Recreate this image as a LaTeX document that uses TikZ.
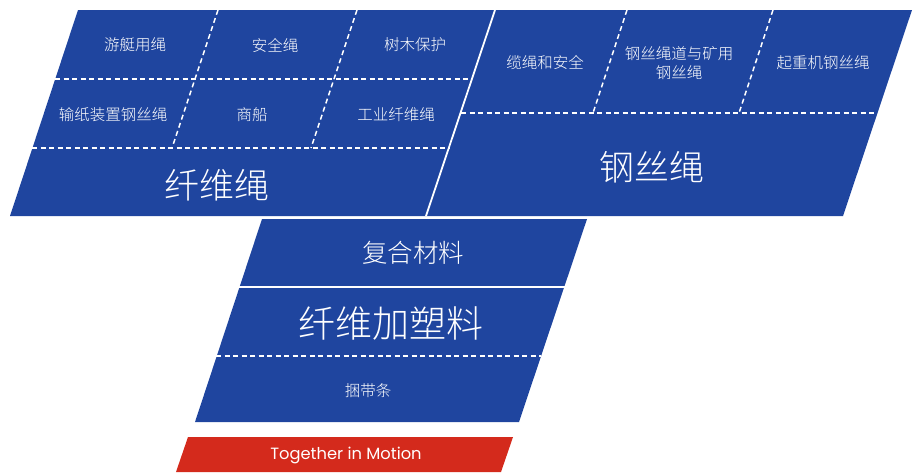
\documentclass[tikz,border=0pt]{standalone}
\usepackage{fontspec}
\setmainfont{Poppins}
\newfontfamily\cjk{Noto Sans CJK SC Light}
\definecolor{panelblue}{HTML}{1F459F}
\definecolor{barred}{HTML}{D42A1C}
\begin{document}
\begin{tikzpicture}[x=1pt,y=-1pt,
  sep/.style={draw=white,line width=1.8pt},
  dsep/.style={draw=white,line width=1.5pt,dash pattern=on 5pt off 3.5pt},
  small/.style={text=white,font=\cjk\fontsize{15.5}{19}\selectfont,align=center,inner sep=0pt},
  big/.style={text=white,font=\cjk\fontsize{35}{40}\selectfont,inner sep=0pt},
  mid/.style={text=white,font=\cjk\fontsize{25.5}{30}\selectfont,inner sep=0pt},
  tag/.style={text=white,font=\fontsize{16.3}{19}\selectfont,inner sep=0pt}]
\useasboundingbox (0,0) rectangle (920,472);
% top panels
\fill[panelblue] (78,10) -- (912,10) -- (843,216) -- (10,216) -- cycle;
\coordinate (s1) at (495,10); \coordinate (s2) at (426,216);
\draw[sep] (s1) -- (s2);
% left panel dashed grid
\coordinate (l1a) at (55,79);  \coordinate (l1b) at (471,79);
\coordinate (l2a) at (32,148); \coordinate (l2b) at (449,148);
\coordinate (v1a) at (218,10); \coordinate (v1b) at (172,148);
\coordinate (v2a) at (357,10); \coordinate (v2b) at (311,148);
\draw[dsep] (l1a) -- (l1b);
\draw[dsep] (l2a) -- (l2b);
\draw[dsep] (v1a) -- (v1b);
\draw[dsep] (v2a) -- (v2b);
% right panel dashed grid
\coordinate (r1a) at (461,113); \coordinate (r1b) at (877,113);
\coordinate (w1a) at (627,10); \coordinate (w1b) at (593,113);
\coordinate (w2a) at (773,10); \coordinate (w2b) at (739,113);
\draw[dsep] (r1a) -- (r1b);
\draw[dsep] (w1a) -- (w1b);
\draw[dsep] (w2a) -- (w2b);
% middle panel
\fill[panelblue] (262,219) -- (587,219) -- (519,422) -- (195,422) -- cycle;
\coordinate (m1a) at (238,287); \coordinate (m1b) at (566,287);
\draw[sep] (m1a) -- (m1b);
\coordinate (m2a) at (216,356); \coordinate (m2b) at (541,356);
\draw[dsep] (m2a) -- (m2b);
% red bar
\fill[barred] (188,437) -- (513,437) -- (501,472) -- (176,472) -- cycle;
% texts
\node[small] (t1) at (135,45) {游艇用绳};
\node[small] (t2) at (275,45) {安全绳};
\node[small] (t3) at (415,45) {树木保护};
\node[small] (t4) at (113,115) {输纸装置钢丝绳};
\node[small] (t5) at (252,115) {商船};
\node[small] (t6) at (396,115) {工业纤维绳};
\node[big] (t7) at (217,185) {纤维绳};
\node[small] (u1) at (545,63) {缆绳和安全};
\node[small] (u2) at (679,63) {钢丝绳道与矿用\\钢丝绳};
\node[small] (u3) at (823,63) {起重机钢丝绳};
\node[big] (u4) at (652,167) {钢丝绳};
\node[mid] (c1) at (413,253) {复合材料};
\node[big,font=\cjk\fontsize{37}{42}\selectfont] (c2) at (391,323) {纤维加塑料};
\node[small] (c3) at (368,391) {捆带条};
\node[tag] (g1) at (346,455) {Together in Motion};
\end{tikzpicture}
\end{document}
